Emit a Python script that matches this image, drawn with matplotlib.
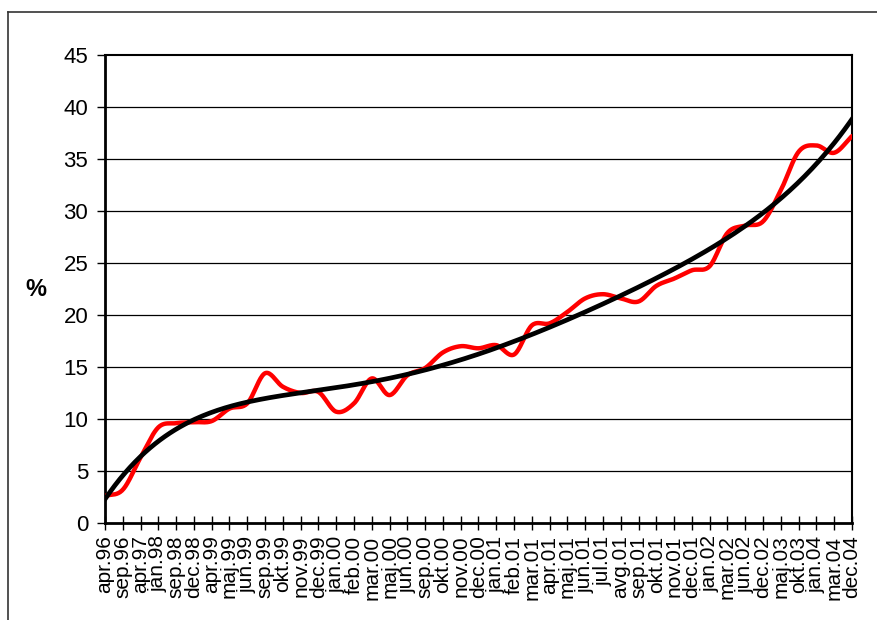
import matplotlib
matplotlib.use("Agg")
import matplotlib.pyplot as plt
import numpy as np
from matplotlib.lines import Line2D

plt.rcParams['font.family'] = ['Liberation Sans', 'DejaVu Sans']

months = ["apr.96", "sep.96", "apr.97", "jan.98", "sep.98", "dec.98", "apr.99",
          "maj.99", "jun.99", "sep.99", "okt.99", "nov.99", "dec.99", "jan.00",
          "feb.00", "mar.00", "maj.00", "jun.00", "sep.00", "okt.00", "nov.00",
          "dec.00", "jan.01", "feb.01", "mar.01", "apr.01", "maj.01", "jun.01",
          "jul.01", "avg.01", "sep.01", "okt.01", "nov.01", "dec.01", "jan.02",
          "mar.02", "jun.02", "dec.02", "maj.03", "okt.03", "jan.04", "mar.04",
          "dec.04"]
share = [2.6, 3.2, 6.3, 9.2, 9.6, 9.7, 9.8, 11.0, 11.5, 14.4, 13.1, 12.5, 12.6,
         10.7, 11.5, 13.9, 12.3, 14.2, 14.9, 16.4, 17.0, 16.8, 17.1, 16.2, 19.0,
         19.2, 20.3, 21.6, 22.0, 21.6, 21.3, 22.8, 23.5, 24.3, 24.7, 27.9, 28.6,
         29.0, 32.0, 35.7, 36.3, 35.6, 37.2]


def smooth(x, y, n=20):
    # catmull-rom style smoothing like Excel's smoothed line
    x = np.asarray(x, float)
    y = np.asarray(y, float)
    px = np.concatenate([[2 * x[0] - x[1]], x, [2 * x[-1] - x[-2]]])
    py = np.concatenate([[2 * y[0] - y[1]], y, [2 * y[-1] - y[-2]]])
    xs, ys = [], []
    t = np.linspace(0, 1, n, endpoint=False)
    for i in range(1, len(px) - 2):
        p0, p1, p2, p3 = py[i - 1], py[i], py[i + 1], py[i + 2]
        q0, q1, q2, q3 = px[i - 1], px[i], px[i + 1], px[i + 2]
        ys.append(0.5 * (2 * p1 + (-p0 + p2) * t + (2 * p0 - 5 * p1 + 4 * p2 - p3) * t ** 2
                         + (-p0 + 3 * p1 - 3 * p2 + p3) * t ** 3))
        xs.append(0.5 * (2 * q1 + (-q0 + q2) * t + (2 * q0 - 5 * q1 + 4 * q2 - q3) * t ** 2
                         + (-q0 + 3 * q1 - 3 * q2 + q3) * t ** 3))
    xs.append([x[-1]])
    ys.append([y[-1]])
    return np.concatenate(xs), np.concatenate(ys)


x = np.arange(len(months))
fig = plt.figure(figsize=(8.78, 6.2), dpi=100)
ax = fig.add_axes([105 / 878, 97 / 620, 747 / 878, 468 / 620])

for v in range(5, 45, 5):
    ax.axhline(v, color="black", lw=0.9, zorder=1)

sx, sy = smooth(x, share)
ax.plot(sx, sy, color="#ff0000", lw=3.2, solid_capstyle="round", zorder=3)

# polynomial trendline
coef = np.polyfit(x, share, 5)
tx = np.linspace(0, len(months) - 1, 300)
ax.plot(tx, np.polyval(coef, tx), color="black", lw=3.4, zorder=4)

ax.set_xlim(0, len(months) - 1)
ax.set_ylim(0, 45)
ax.set_yticks(range(0, 50, 5))
ax.set_xticks(x)
ax.set_xticklabels(months, rotation=90, fontsize=15)
ax.tick_params(axis="y", labelsize=16, direction="out", length=6, width=1, pad=6)
ax.tick_params(axis="x", direction="inout", length=10, width=1, pad=4)
for s in ["left", "bottom"]:
    ax.spines[s].set_linewidth(2)
for s in ["top", "right"]:
    ax.spines[s].set_linewidth(1.5)
fig.text(36 / 878, 1 - 290 / 620, "%", fontsize=17, fontweight="bold",
         ha="center", va="center")

fig.add_artist(Line2D([8 / 878, 8 / 878], [0, 1 - 12 / 620], color="#333333", lw=1.2))
fig.add_artist(Line2D([8 / 878, 1], [1 - 12 / 620, 1 - 12 / 620], color="#333333", lw=1.2))

fig.savefig("out.png", dpi=100)
